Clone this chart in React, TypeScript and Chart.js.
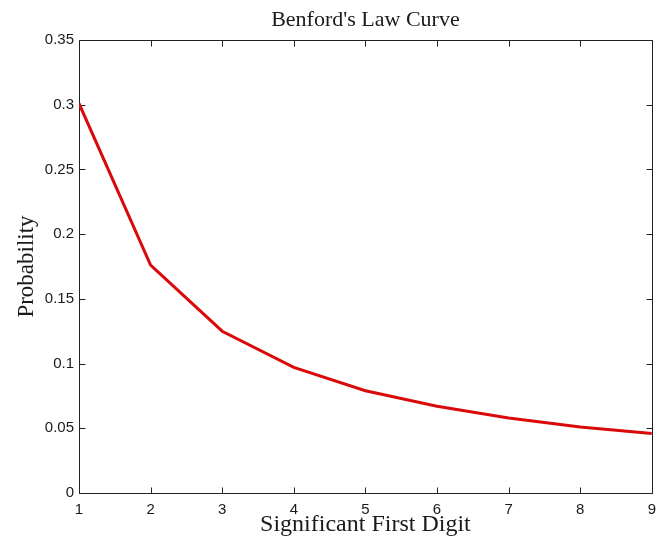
import React, { useEffect, useRef } from "react";
import { Chart, registerables } from "chart.js";

Chart.register(...registerables);

const digits = [1, 2, 3, 4, 5, 6, 7, 8, 9];
const probabilities = [0.301, 0.176, 0.125, 0.097, 0.079, 0.067, 0.058, 0.051, 0.046];
const yTickValues = [0, 0.05, 0.1, 0.15, 0.2, 0.25, 0.3, 0.35];
const yTickLabels = ["0", "0.05", "0.1", "0.15", "0.2", "0.25", "0.3", "0.35"];
const xTickLabels = ["1", "2", "3", "4", "5", "6", "7", "8", "9"];
const chartTitle = "Benford's Law Curve";
const xTitle = "Significant First Digit";
const yTitle = "Probability";

const boxPlugin = {
  id: "matlabBox",
  beforeDatasetsDraw(chart: any) {
    const { ctx, chartArea } = chart;
    const xs = chart.scales.x;
    const ys = chart.scales.y;
    const L = 6;
    ctx.save();
    ctx.strokeStyle = "#222";
    ctx.lineWidth = 1;
    ctx.beginPath();
    const l = Math.round(chartArea.left) + 0.5;
    const r = Math.round(chartArea.right) + 0.5;
    const t = Math.round(chartArea.top) + 0.5;
    const b = Math.round(chartArea.bottom) + 0.5;
    ctx.rect(l, t, r - l, b - t);
    digits.forEach((d) => {
      const px = Math.round(xs.getPixelForValue(d)) + 0.5;
      ctx.moveTo(px, b);
      ctx.lineTo(px, b - L);
      ctx.moveTo(px, t);
      ctx.lineTo(px, t + L);
    });
    yTickValues.forEach((v) => {
      const py = Math.round(ys.getPixelForValue(v)) + 0.5;
      ctx.moveTo(l, py);
      ctx.lineTo(l + L, py);
      ctx.moveTo(r, py);
      ctx.lineTo(r - L, py);
    });
    ctx.stroke();
    ctx.restore();
  },
};

export default function App() {
  const ref = useRef<HTMLCanvasElement | null>(null);
  useEffect(() => {
    if (!ref.current) return;
    const tickFont = { family: "'Liberation Sans', Arial, sans-serif", size: 15 };
    const chart = new Chart(ref.current, {
      type: "line",
      data: {
        datasets: [
          {
            data: digits.map((d, i) => ({ x: d, y: probabilities[i] })),
            borderColor: "rgb(218, 10, 10)",
            borderWidth: 3,
            pointRadius: 0,
            tension: 0,
            fill: false,
          },
        ],
      },
      options: {
        animation: false,
        responsive: true,
        maintainAspectRatio: false,
        layout: { padding: { left: 0, right: 11, top: 0, bottom: 0 } },
        plugins: {
          legend: { display: false },
          tooltip: { enabled: false },
          title: {
            display: true,
            text: chartTitle,
            fullSize: false,
            color: "#1a1a1a",
            font: { family: "'Liberation Serif', 'Times New Roman', serif", size: 22, weight: "normal" },
            padding: { top: 7.5, bottom: 6.1 },
          },
        },
        scales: {
          x: {
            type: "linear",
            min: 1,
            max: 9,
            afterFit: (s: any) => {
              s.height = 46;
            },
            afterBuildTicks: (s: any) => {
              s.ticks = digits.map((d) => ({ value: d }));
            },
            grid: { display: false, drawTicks: false },
            border: { display: false },
            ticks: {
              padding: 8,
              color: "#1a1a1a",
              font: tickFont,
              maxRotation: 0,
              autoSkip: false,
              callback: (_v: any, i: number) => xTickLabels[i],
            },
            title: {
              display: true,
              text: xTitle,
              color: "#1a1a1a",
              font: { family: "'Liberation Serif', 'Times New Roman', serif", size: 24 },
              padding: { top: 0, bottom: 0 },
            },
          },
          y: {
            type: "linear",
            min: 0,
            max: 0.35,
            afterFit: (s: any) => {
              s.width = 79;
            },
            afterBuildTicks: (s: any) => {
              s.ticks = yTickValues.map((v) => ({ value: v }));
            },
            grid: { display: false, drawTicks: false },
            border: { display: false },
            ticks: {
              padding: 5,
              color: "#1a1a1a",
              font: tickFont,
              autoSkip: false,
              callback: (_v: any, i: number) => yTickLabels[i],
            },
            title: {
              display: true,
              text: yTitle,
              color: "#1a1a1a",
              font: { family: "'Liberation Serif', 'Times New Roman', serif", size: 23 },
              padding: { top: 13, bottom: 0 },
            },
          },
        },
      },
      plugins: [boxPlugin],
    });
    return () => chart.destroy();
  }, []);
  return (
    <div style={{ position: "absolute", left: 0, top: 0, width: 664, height: 539, background: "#fff" }}>
      <canvas ref={ref} />
    </div>
  );
}
